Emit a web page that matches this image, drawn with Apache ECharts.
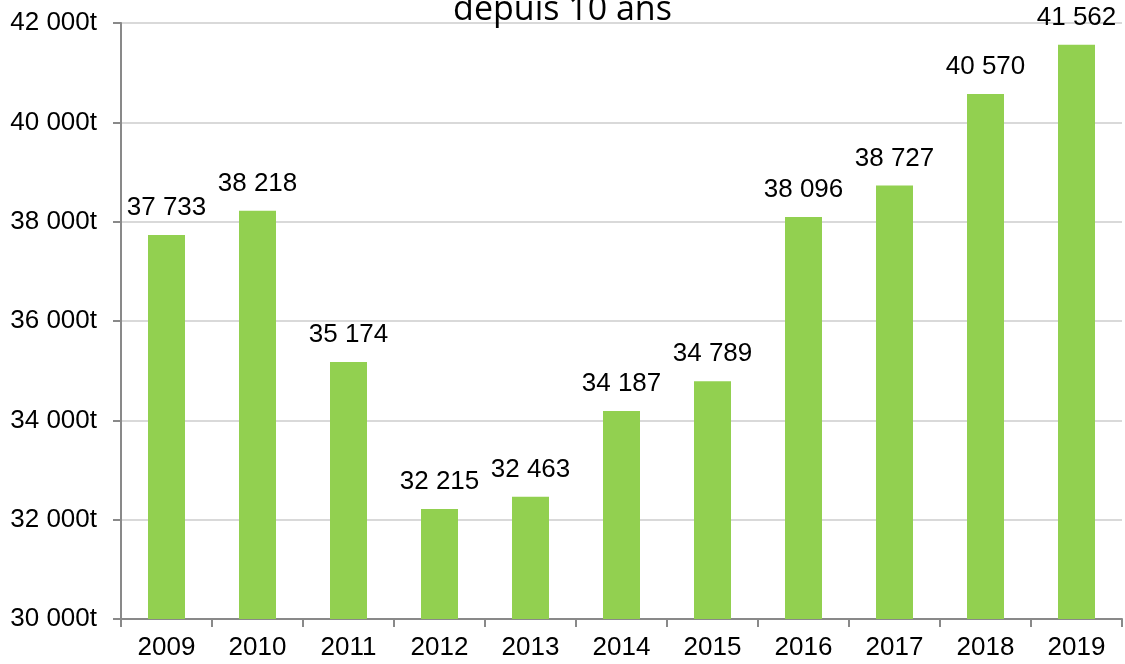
<!DOCTYPE html>
<html>
<head>
<meta charset="utf-8">
<script src="https://cdn.jsdelivr.net/npm/echarts@6/dist/echarts.min.js"></script>
<style>
  html, body { margin: 0; padding: 0; background: #fff; }
  #chart { width: 1125px; height: 664px; }
</style>
</head>
<body>
<div id="chart"></div>
<script>
  // années et tonnages
  const years = ['2009', '2010', '2011', '2012', '2013', '2014', '2015', '2016', '2017', '2018', '2019'];
  const tonnes = [37733, 38218, 35174, 32215, 32463, 34187, 34789, 38096, 38727, 40570, 41562];
  const yTicks = [30000, 32000, 34000, 36000, 38000, 40000, 42000];

  // 37733 -> "37 733"
  function fmt(v) {
    return String(v).replace(/\B(?=(\d{3})+(?!\d))/g, ' ');
  }

  let chart = echarts.init(document.getElementById('chart'));

  let option = {
    animation: false,
    backgroundColor: '#fff',
    title: {
      text: 'depuis 10 ans',
      left: 'center',
      top: -7,
      padding: 0,
      textStyle: {
        fontFamily: 'Open Sans',
        fontSize: 34,
        fontWeight: 'normal',
        color: '#000'
      }
    },
    grid: {
      left: 121,
      right: 3,
      top: 23,
      bottom: 45
    },
    xAxis: {
      type: 'category',
      data: years,
      axisLine: { lineStyle: { color: '#898989', width: 2 } },
      axisTick: { show: true, length: 8, lineStyle: { color: '#898989', width: 2 } },
      axisLabel: {
        color: '#000',
        fontFamily: 'Liberation Sans',
        fontSize: 26,
        margin: 16
      }
    },
    yAxis: {
      type: 'value',
      min: yTicks[0],
      max: yTicks[yTicks.length - 1],
      interval: 2000,
      axisLine: { show: true, lineStyle: { color: '#898989', width: 2 } },
      axisTick: { show: true, length: 8, lineStyle: { color: '#898989', width: 2 } },
      splitLine: { lineStyle: { color: '#d9d9d9', width: 2 } },
      axisLabel: {
        color: '#000',
        fontFamily: 'Liberation Sans',
        fontSize: 26,
        margin: 24,
        formatter: v => fmt(v) + 't'
      }
    },
    series: [{
      type: 'bar',
      data: tonnes,
      barWidth: 37,
      itemStyle: { color: '#92d050' },
      label: {
        show: true,
        position: 'top',
        distance: 14,
        color: '#000',
        fontFamily: 'Liberation Sans',
        fontSize: 26,
        formatter: p => fmt(p.value)
      }
    }]
  };

  chart.setOption(option);
</script>
</body>
</html>
